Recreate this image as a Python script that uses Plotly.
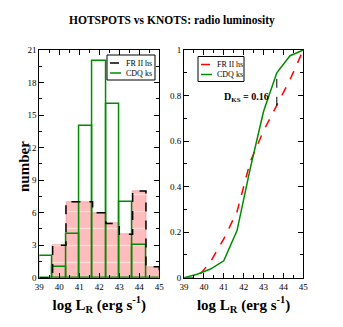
import plotly.graph_objects as go

# %%
# data
bin_edges = [39, 39.667, 40.333, 41, 41.667, 42.333, 43, 43.667, 44.333, 45]
frii_hs_counts = [0, 3, 7, 7, 6, 5, 4, 8, 1]
cdq_ks_counts = [2, 1, 4, 14, 20, 16, 7, 3, 0]

cdf_x = [39, 39.667, 40.333, 41, 41.667, 42.333, 43, 43.667, 44.333, 45]
frii_hs_cdf = [0, 0.0, 0.07, 0.17, 0.29, 0.51, 0.645, 0.755, 0.87, 1.0]
cdq_ks_cdf = [0, 0.015, 0.038, 0.074, 0.207, 0.48, 0.73, 0.90, 0.975, 1.0]

ks_x = 43.667
ks_label = "D<sub>KS</sub> = 0.16"

# %%
W, H = 343, 327
OFF = 8  # the page body margin pushes the figure 8px right and down
SERIF = "Liberation Serif"
GREEN = "#008b00"
PINK = "#ffbcbc"


def px(x):
    return (x - OFF) / W


def py(y):
    return 1 - (y - OFF) / H


centers = [(a + b) / 2 for a, b in zip(bin_edges[:-1], bin_edges[1:])]
widths = [b - a for a, b in zip(bin_edges[:-1], bin_edges[1:])]

# outline of the FR II histogram as a step line
step_x, step_y = [bin_edges[0]], [0]
for a, b, c in zip(bin_edges[:-1], bin_edges[1:], frii_hs_counts):
    step_x += [a, b]
    step_y += [c, c]
step_x.append(bin_edges[-1])
step_y.append(0)

fig = go.Figure()

fig.add_trace(go.Bar(
    x=centers, y=frii_hs_counts, width=widths,
    marker=dict(color=PINK, line=dict(color="#e08080", width=0.5),
                pattern=dict(shape="-", fgcolor="white", bgcolor=PINK, size=17, solidity=0.08)),
    xaxis="x", yaxis="y", showlegend=False,
))
fig.add_trace(go.Scatter(
    x=step_x, y=step_y, mode="lines",
    line=dict(color="black", width=1.5, dash="dash"),
    xaxis="x", yaxis="y", showlegend=False,
))
fig.add_trace(go.Bar(
    x=centers, y=cdq_ks_counts, width=widths,
    marker=dict(color="rgba(0,0,0,0)", line=dict(color=GREEN, width=1.5)),
    xaxis="x", yaxis="y", showlegend=False,
))

# cumulative distributions
fig.add_trace(go.Scatter(
    x=cdf_x, y=frii_hs_cdf, mode="lines",
    line=dict(color="red", width=1.5, dash="dash"),
    xaxis="x2", yaxis="y2", showlegend=False,
))
fig.add_trace(go.Scatter(
    x=cdf_x, y=cdq_ks_cdf, mode="lines",
    line=dict(color=GREEN, width=1.5),
    xaxis="x2", yaxis="y2", showlegend=False,
))
ks_i = cdf_x.index(ks_x)
fig.add_trace(go.Scatter(
    x=[ks_x, ks_x], y=[frii_hs_cdf[ks_i], cdq_ks_cdf[ks_i]], mode="lines",
    line=dict(color="black", width=1, dash="dash"),
    xaxis="x2", yaxis="y2", showlegend=False,
))

tickfont = dict(family=SERIF, size=9, color="black")
titlefont = dict(family=SERIF, size=15, color="black")
axis_common = dict(
    showline=True, linecolor="black", linewidth=1, mirror="allticks",
    ticks="inside", ticklen=5, tickcolor="black", tickfont=tickfont,
    showgrid=False, zeroline=False, automargin=False,
)

x_title = "<b>log L<sub>R</sub> (erg s<sup>-1</sup>)</b>"

fig.update_layout(
    width=W, height=H,
    margin=dict(l=0, r=0, t=0, b=0),
    paper_bgcolor="white", plot_bgcolor="white",
    barmode="overlay", bargap=0,
    xaxis=dict(domain=[px(39.3), px(159.3)], range=[39, 45], dtick=1,
               minor=dict(ticks="inside", ticklen=3, dtick=0.5, tickcolor="black"),
               title=dict(text=x_title, font=titlefont, standoff=8), anchor="y",
               **axis_common),
    yaxis=dict(domain=[py(277.7), py(50)], range=[0, 21], dtick=3,
               minor=dict(ticks="inside", ticklen=3, dtick=1.5, tickcolor="black"),
               anchor="x", **axis_common),
    xaxis2=dict(domain=[px(184), px(303.3)], range=[39, 45], dtick=1,
                minor=dict(ticks="inside", ticklen=3, dtick=0.5, tickcolor="black"),
                title=dict(text=x_title, font=titlefont, standoff=8), anchor="y2",
                **axis_common),
    yaxis2=dict(domain=[py(277.7), py(50)], range=[0, 1], dtick=0.2,
                minor=dict(ticks="inside", ticklen=3, dtick=0.1, tickcolor="black"),
                anchor="x2", **axis_common),
)

fig.add_annotation(
    text="<b>number</b>", textangle=-90,
    x=px(24), y=py(167), xref="paper", yref="paper", xanchor="center", yanchor="middle",
    showarrow=False, font=dict(family=SERIF, size=15, color="black"),
)
fig.add_annotation(
    text="<b>HOTSPOTS vs KNOTS: radio luminosity</b>",
    x=px(171.5), y=py(20), xref="paper", yref="paper", yanchor="middle",
    showarrow=False, font=dict(family=SERIF, size=11.5, color="black"),
)
fig.add_annotation(
    text="<b>" + ks_label + "</b>",
    x=px(222), y=py(97), xref="paper", yref="paper", xanchor="left", yanchor="middle",
    showarrow=False, font=dict(family=SERIF, size=10, color="black"),
)

# hand drawn legends (plotly's own legend samples are too wide for these panels)
def legend_box(x0, y0, x1, y1, entries):
    fig.add_shape(type="rect", xref="paper", yref="paper",
                  x0=px(x0), x1=px(x1), y0=py(y0), y1=py(y1),
                  line=dict(color="black", width=1), fillcolor="white", layer="above")
    for i, (name, color, dash) in enumerate(entries):
        yy = y0 + 8 + i * 10
        fig.add_shape(type="line", xref="paper", yref="paper",
                      x0=px(x0 + 3), x1=px(x0 + 14), y0=py(yy), y1=py(yy),
                      line=dict(color=color, width=1.5, dash=dash), layer="above")
        fig.add_annotation(text=name, x=px(x0 + 17), y=py(yy), xref="paper", yref="paper",
                           xanchor="left", yanchor="middle", showarrow=False,
                           font=dict(family=SERIF, size=8, color="black"))


legend_box(107, 55, 155, 80, [("FR II hs", "black", "dash"), ("CDQ ks", GREEN, "solid")])
legend_box(198, 56.5, 244, 81.5, [("FR II hs", "red", "dash"), ("CDQ ks", GREEN, "solid")])

fig.write_html("out.html")
